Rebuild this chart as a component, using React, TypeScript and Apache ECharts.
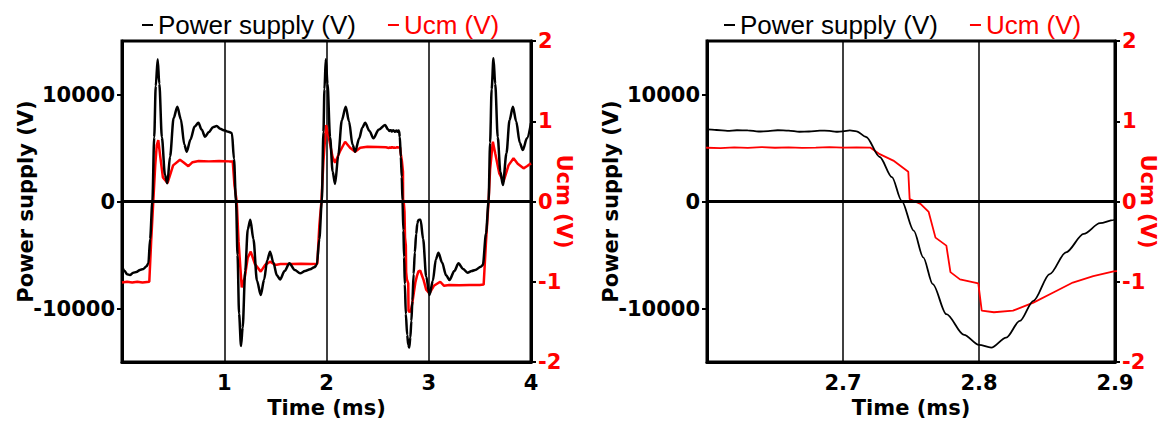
import React, { useEffect, useRef } from "react";
import * as echarts from "echarts";

// ---- data (time in ms) ----
const supplyData: [number, number][] = [
  [0.0, -6090], [0.025, -6500], [0.05, -6800], [0.078, -6870], [0.11, -6650], [0.14, -6600],
  [0.176, -6400], [0.21, -6300], [0.24, -6050], [0.258, -5780], [0.275, -3500], [0.297, 0],
  [0.315, 6000], [0.33, 10800], [0.349, 13290], [0.365, 11000], [0.39, 6000], [0.42, 2500],
  [0.443, 1700], [0.47, 4200], [0.505, 7800], [0.541, 8860], [0.575, 7700], [0.61, 5300],
  [0.633, 4650], [0.67, 5800], [0.71, 7000], [0.747, 7360], [0.78, 6700], [0.812, 6060],
  [0.85, 6500], [0.89, 6950], [0.926, 7060], [0.96, 6800], [1.0, 6650], [1.04, 6520],
  [1.075, 6400], [1.095, 4000], [1.115, 0], [1.13, -5000], [1.145, -10500], [1.164, -13500],
  [1.18, -11800], [1.205, -6500], [1.23, -2600], [1.255, -1700], [1.285, -3500], [1.32, -7400],
  [1.357, -8740], [1.39, -7300], [1.42, -5500], [1.448, -4690], [1.48, -5700], [1.515, -6900],
  [1.546, -7280], [1.59, -6500], [1.637, -5780], [1.69, -6400], [1.742, -6710], [1.79, -6500],
  [1.84, -6340], [1.88, -6150], [1.905, -5930], [1.93, -3500], [1.954, 0], [1.97, 6500],
  [1.98, 10500], [1.993, 13290], [2.01, 11000], [2.035, 6000], [2.06, 2800], [2.084, 1640],
  [2.115, 4300], [2.15, 7600], [2.188, 8860], [2.22, 7500], [2.255, 5300], [2.28, 4650],
  [2.32, 5900], [2.35, 6900], [2.378, 7360], [2.42, 6600], [2.459, 5900], [2.51, 6700],
  [2.573, 7150], [2.6, 6750], [2.607, 6680], [2.615, 6600], [2.622, 6660], [2.63, 6650],
  [2.638, 6540], [2.645, 6580], [2.652, 6660], [2.66, 6620], [2.668, 6520], [2.675, 6540],
  [2.683, 6630], [2.69, 6600], [2.695, 6520], [2.7, 6560], [2.705, 6640], [2.71, 6560],
  [2.717, 6030], [2.727, 4160], [2.736, 2280], [2.743, 90], [2.752, -2720], [2.759, -5220],
  [2.766, -7720], [2.776, -10530], [2.789, -12470], [2.8, -13400], [2.809, -13650],
  [2.82, -12720], [2.83, -11160], [2.84, -9280], [2.852, -6780], [2.864, -4750],
  [2.877, -3030], [2.889, -2030], [2.899, -1720], [2.92, -1700], [2.945, -3500],
  [2.975, -7000], [3.007, -8740], [3.04, -7400], [3.07, -5400], [3.095, -4790], [3.13, -5700],
  [3.17, -6900], [3.203, -7340], [3.25, -6500], [3.291, -5780], [3.335, -6300], [3.379, -6650],
  [3.42, -6500], [3.454, -6400], [3.51, -6100], [3.529, -5930], [3.56, -3000], [3.585, 0],
  [3.6, 5500], [3.615, 10500], [3.633, 13380], [3.65, 11000], [3.675, 6000], [3.7, 2800],
  [3.725, 1540], [3.76, 4500], [3.79, 7600], [3.823, 8860], [3.855, 7500], [3.89, 5500],
  [3.92, 4810], [3.96, 5900], [4.0, 7310],
];

const ucmData: [number, number][] = [
  [0.0, -1.01], [0.05, -1.0], [0.1, -1.01], [0.15, -1.0], [0.2, -1.01], [0.267, -1.0],
  [0.285, -0.5], [0.306, 0], [0.325, 0.45], [0.34, 0.7], [0.355, 0.766], [0.375, 0.55],
  [0.4, 0.3], [0.445, 0.23], [0.5, 0.45], [0.567, 0.52], [0.6, 0.49], [0.649, 0.44],
  [0.69, 0.49], [0.75, 0.505], [0.85, 0.5], [0.95, 0.505], [1.05, 0.5], [1.083, 0.5],
  [1.1, 0.2], [1.122, 0], [1.14, -0.5], [1.171, -1.07], [1.2, -0.95], [1.23, -0.7],
  [1.259, -0.625], [1.3, -0.78], [1.357, -0.874], [1.4, -0.79], [1.448, -0.75], [1.5, -0.79],
  [1.55, -0.78], [1.65, -0.78], [1.75, -0.775], [1.85, -0.78], [1.91, -0.775], [1.93, -0.3],
  [1.95, 0], [1.97, 0.5], [1.996, 0.953], [2.03, 0.75], [2.06, 0.55], [2.084, 0.484],
  [2.13, 0.62], [2.182, 0.745], [2.23, 0.67], [2.28, 0.62], [2.33, 0.67], [2.4, 0.683],
  [2.5, 0.68], [2.58, 0.675], [2.6, 0.67], [2.61, 0.665], [2.62, 0.675], [2.63, 0.668],
  [2.64, 0.678], [2.65, 0.67], [2.66, 0.675], [2.67, 0.668], [2.68, 0.672], [2.69, 0.678],
  [2.7, 0.671], [2.71, 0.675], [2.72, 0.672], [2.727, 0.59], [2.737, 0.51], [2.748, 0.37],
  [2.749, 0.03], [2.757, -0.03], [2.763, -0.13], [2.768, -0.45], [2.776, -0.55],
  [2.779, -0.88], [2.786, -0.97], [2.7995, -1.02], [2.802, -1.36], [2.811, -1.38],
  [2.825, -1.36], [2.84, -1.26], [2.855, -1.13], [2.869, -1.01], [2.884, -0.93],
  [2.899, -0.87], [2.916, -0.86], [2.95, -0.98], [2.975, -1.1], [3.007, -1.144],
  [3.05, -1.05], [3.112, -1.0], [3.15, -1.05], [3.2, -1.04], [3.3, -1.045], [3.4, -1.04],
  [3.5, -1.04], [3.537, -1.035], [3.56, -0.5], [3.585, 0], [3.6, 0.4], [3.627, 0.745],
  [3.65, 0.6], [3.69, 0.35], [3.731, 0.247], [3.78, 0.45], [3.829, 0.538], [3.87, 0.47],
  [3.927, 0.413], [3.96, 0.44], [4.0, 0.475],
];

const supplyTicks = [-10000, 0, 10000];
const ucmTicks = [-2, -1, 0, 1, 2];
const xTicksLeft = [1, 2, 3, 4];
const xTicksRight = [2.7, 2.8, 2.9];
const legendNames = ["Power supply (V)", "Ucm (V)"];

const BLACK = "#000000";
const RED = "#ff0000";
const AXIS_FONT = "DejaVu Sans";
const LEGEND_FONT = "Liberation Sans";

function makeOption() {
  const panels = [
    { left: 122, width: 409, xMin: 0, xMax: 4, xInt: 1, xTicks: xTicksLeft, legendLeft: 137, lw: 2.5, fmt: (v: number) => String(v) },
    { left: 707, width: 408, xMin: 2.6, xMax: 2.9, xInt: 0.1, xTicks: xTicksRight, legendLeft: 719, lw: 1.8, fmt: (v: number) => v.toFixed(1) },
  ];
  const tickStyle = { fontFamily: AXIS_FONT, fontWeight: "bold" as const, fontSize: 21 };
  const plain = (v: number) => String(v);
  const grid: any[] = [];
  const xAxis: any[] = [];
  const yAxis: any[] = [];
  const legend: any[] = [];
  const series: any[] = [];
  panels.forEach((p, i) => {
    grid.push({
      left: p.left, top: 41, width: p.width, height: 321,
      show: true, borderColor: BLACK, borderWidth: 3, backgroundColor: "transparent",
      outerBoundsMode: "none",
    });
    xAxis.push({
      gridIndex: i, type: "value", min: p.xMin, max: p.xMax, interval: p.xInt,
      axisLine: { show: true, onZero: false, lineStyle: { color: BLACK, width: 3 } },
      axisTick: { show: false },
      splitLine: { show: true, lineStyle: { color: BLACK, width: 1.5 } },
      axisLabel: { customValues: p.xTicks, formatter: p.fmt, color: BLACK, margin: 10, ...tickStyle },
      name: "Time (ms)", nameLocation: "middle", nameGap: 35, nameMoveOverlap: false,
      nameTextStyle: { color: BLACK, ...tickStyle },
    });
    yAxis.push({
      gridIndex: i, type: "value", min: -15000, max: 15000, position: "left",
      axisLine: { show: true, lineStyle: { color: BLACK, width: 3 } },
      axisTick: { show: true, length: 5, customValues: supplyTicks, lineStyle: { color: BLACK, width: 2 } },
      axisLabel: { customValues: supplyTicks, formatter: plain, color: BLACK, margin: 7, ...tickStyle },
      splitLine: { show: false },
      name: "Power supply (V)", nameLocation: "middle", nameGap: 86, nameRotate: 90,
      nameMoveOverlap: false,
      nameTextStyle: { color: BLACK, ...tickStyle },
    });
    yAxis.push({
      gridIndex: i, type: "value", min: -2, max: 2, interval: 1, position: "right",
      axisLine: { show: true, lineStyle: { color: BLACK, width: 3 } },
      axisTick: { show: true, length: 5, customValues: ucmTicks, lineStyle: { color: BLACK, width: 2 } },
      axisLabel: { customValues: ucmTicks, formatter: plain, color: RED, margin: 7, ...tickStyle },
      splitLine: { show: false },
      name: "Ucm (V)", nameLocation: "middle", nameGap: 22, nameRotate: -90,
      nameMoveOverlap: false,
      nameTextStyle: { color: RED, ...tickStyle },
    });
    legend.push({
      left: p.legendLeft, top: 7, icon: "rect", itemWidth: 11, itemHeight: 2, itemGap: 32,
      selectedMode: false,
      textStyle: { fontFamily: LEGEND_FONT, fontSize: 26, color: BLACK },
      data: [
        { name: legendNames[0], textStyle: { color: BLACK } },
        { name: legendNames[1], textStyle: { color: RED } },
      ],
    });
    series.push({
      name: legendNames[0], type: "line", xAxisIndex: i, yAxisIndex: i * 2,
      data: supplyData, showSymbol: false, symbol: "none", color: BLACK,
      smooth: 0.3, smoothMonotone: "x",
      lineStyle: { color: BLACK, width: p.lw }, z: 3,
      markLine: {
        silent: true, symbol: "none", label: { show: false },
        lineStyle: { color: BLACK, width: 3, type: "solid" },
        data: [{ yAxis: 0 }],
      },
    });
    series.push({
      name: legendNames[1], type: "line", xAxisIndex: i, yAxisIndex: i * 2 + 1,
      data: ucmData, showSymbol: false, symbol: "none", color: RED,
      lineStyle: { color: RED, width: p.lw }, z: 2,
    });
  });
  return { animation: false, backgroundColor: "#ffffff", grid, xAxis, yAxis, legend, series };
}

export default function App() {
  const ref = useRef<HTMLDivElement>(null);
  useEffect(() => {
    if (!ref.current) return;
    const chart = echarts.init(ref.current, undefined, { renderer: "svg" });
    chart.setOption(makeOption() as any);
    return () => chart.dispose();
  }, []);
  return (
    <div
      ref={ref}
      style={{ position: "fixed", left: 0, top: 0, width: 1165, height: 423, background: "#fff" }}
    />
  );
}
